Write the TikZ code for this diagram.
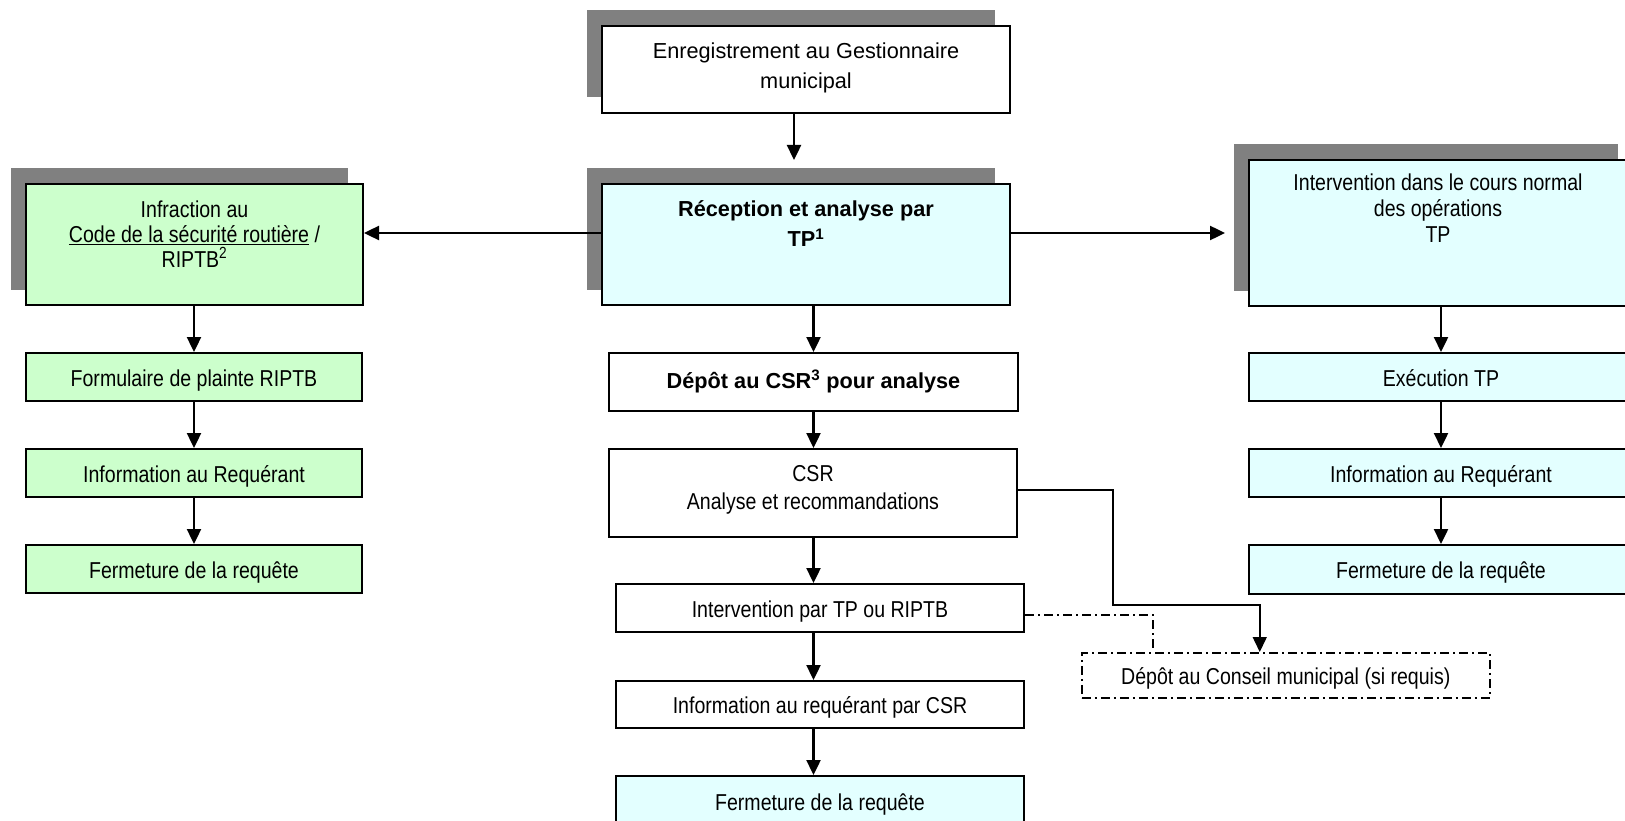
\documentclass[tikz,border=0pt]{standalone}
\usepackage{fontspec}
\setmainfont{Liberation Sans}
\newfontfamily\narrowfont[FakeStretch=0.85]{Liberation Sans}
\usetikzlibrary{shadows,arrows.meta}
\definecolor{boxgreen}{HTML}{CCFFCC}
\definecolor{boxcyan}{HTML}{E3FFFF}
\definecolor{shadowgray}{HTML}{808080}
\begin{document}
\begin{tikzpicture}[x=1pt,y=-1pt,
  box/.style={draw=black, line width=2pt, rectangle, inner sep=0pt, anchor=north west},
  shad/.style={drop shadow={shadow xshift=-15.5pt, shadow yshift=15.5pt, fill=shadowgray, opacity=1}},
  smalltxt/.style={font=\narrowfont\fontsize{23}{25}\selectfont, align=center, inner sep=0pt},
  bigtxt/.style={font=\fontsize{21.7}{30}\selectfont, align=center, inner sep=0pt},
  boldtxt/.style={font=\bfseries\fontsize{21.7}{30}\selectfont, align=center, inner sep=0pt},
  oneline/.style={text height=18pt, text depth=0pt},
  arr/.style={line width=2.4pt, -{Triangle[length=15pt,width=14pt]}},
  thinarr/.style={line width=1.5pt, -{Triangle[length=15pt,width=14pt]}},
  dashdot/.style={line width=1.5pt, dash pattern=on 9pt off 4pt on 2pt off 4pt},
]
\useasboundingbox (0,0) rectangle (1625,821);
\fill[white] (0,0) rectangle (1625,821);
\clip (0,0) rectangle (1625,821);

% central column
\node[box, shad, fill=white, minimum width=408pt, minimum height=87pt] (A) at (601,25) {};
\node[bigtxt, anchor=north] (At) at ([yshift=-18pt]A.north) {Enregistrement au Gestionnaire\\municipal};

\node[box, shad, fill=boxcyan, minimum width=408pt, minimum height=121pt] (B) at (601,183) {};
\node[boldtxt, anchor=north] (Bt) at ([yshift=-17.5pt]B.north) {Réception et analyse par\\TP\textsuperscript{1}};

\node[box, fill=white, minimum width=409pt, minimum height=58pt, boldtxt, text height=12.6pt, text depth=0pt] (Dep) at (608,352) {Dépôt au CSR\textsuperscript{3} pour analyse};

\node[box, fill=white, minimum width=408pt, minimum height=88pt] (CSR) at (608,448) {};
\node[smalltxt, font=\narrowfont\fontsize{23}{28}\selectfont, anchor=north] (CSRt) at ([yshift=-17pt]CSR.north) {CSR\\Analyse et recommandations};

\node[box, fill=white, minimum width=408pt, minimum height=48pt, smalltxt, oneline] (Int) at (615,583) {Intervention par TP ou RIPTB};
\node[box, fill=white, minimum width=408pt, minimum height=47pt, smalltxt, oneline] (Info) at (615,680) {Information au requérant par CSR};
\node[box, fill=boxcyan, minimum width=408pt, minimum height=50pt, smalltxt, oneline] (FermC) at (615,775) {Fermeture de la requête};

% left column
\node[box, shad, fill=boxgreen, minimum width=337pt, minimum height=121pt] (C) at (25,183) {};
\node[smalltxt, anchor=north] (Ct) at ([yshift=-17.5pt]C.north) {Infraction au\\\underline{Code de la sécurité routière} /\\RIPTB\textsuperscript{2}};
\node[box, fill=boxgreen, minimum width=336pt, minimum height=48pt, smalltxt, oneline] (C1) at (25,352) {Formulaire de plainte RIPTB};
\node[box, fill=boxgreen, minimum width=336pt, minimum height=48pt, smalltxt, oneline] (C2) at (25,448) {Information au Requérant};
\node[box, fill=boxgreen, minimum width=336pt, minimum height=48pt, smalltxt, oneline] (C3) at (25,544) {Fermeture de la requête};

% right column
\node[box, shad, fill=boxcyan, minimum width=384pt, minimum height=146pt] (D) at (1248,159) {};
\node[smalltxt, font=\narrowfont\fontsize{23}{26}\selectfont, anchor=north] (Dt) at ([xshift=-3pt,yshift=-14.3pt]D.north) {Intervention dans le cours normal\\des opérations\\TP};
\node[box, fill=boxcyan, minimum width=384pt, minimum height=48pt, smalltxt, oneline] (D1) at (1248,352) {Exécution TP};
\node[box, fill=boxcyan, minimum width=384pt, minimum height=48pt, smalltxt, oneline] (D2) at (1248,448) {Information au Requérant};
\node[box, fill=boxcyan, minimum width=384pt, minimum height=49pt, smalltxt, oneline] (D3) at (1248,544) {Fermeture de la requête};

% council box
\node[box, dashdot, fill=white, minimum width=408pt, minimum height=45pt, smalltxt, oneline] (Con) at (1081,652) {Dépôt au Conseil municipal (si requis)};

% connectors
\draw[arr] ([xshift=-12pt]A.south) -- ([xshift=-12pt,yshift=23pt]B.north);
\draw[arr] ([yshift=11.5pt]B.west) -- ([yshift=11.5pt]C.east);
\coordinate (dIn) at ([xshift=-23pt]D.west);
\coordinate (bOut) at ([yshift=11.5pt]B.east);
\draw[arr] (bOut) -- (bOut -| dIn);
\draw[arr] (Dep.north |- B.south) -- (Dep.north);
\draw[arr] (Dep.south) -- (Dep.south |- CSR.north);
\draw[arr] (Dep.south |- CSR.south) -- (Dep.south |- Int.north);
\draw[arr] (Dep.south |- Int.south) -- (Dep.south |- Info.north);
\draw[arr] (Dep.south |- Info.south) -- (Dep.south |- FermC.north);

\draw[arr] (C1.north |- C.south) -- (C1.north);
\draw[arr] (C1.south) -- (C2.north);
\draw[arr] (C2.south) -- (C3.north);

\draw[arr] (D1.north |- D.south) -- (D1.north);
\draw[arr] (D1.south) -- (D2.north);
\draw[arr] (D2.south) -- (D3.north);

\coordinate (k1) at (1113,605);
\draw[thinarr] ([yshift=3pt]CSR.east) -| (k1) -| ([xshift=-26pt]Con.north);
\draw[dashdot] ([yshift=-7pt]Int.east) -| ([xshift=-133pt]Con.north);
\end{tikzpicture}
\end{document}
